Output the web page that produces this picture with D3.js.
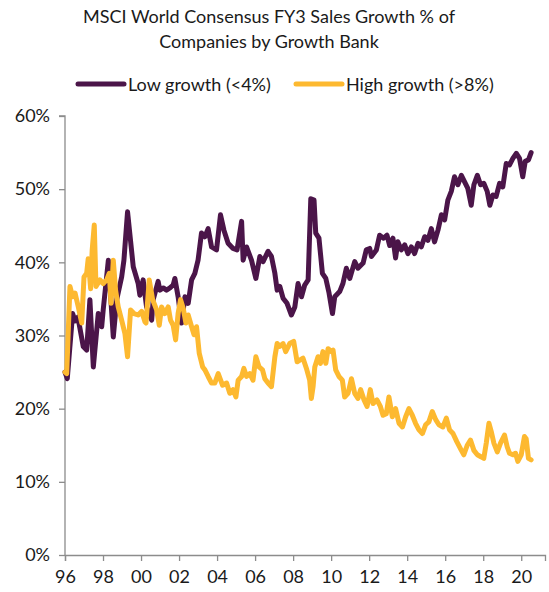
<!DOCTYPE html>
<html>
<head>
<meta charset="utf-8">
<script src="https://cdn.jsdelivr.net/npm/d3@7"></script>
<style>
  html, body { margin: 0; padding: 0; background: #fff; }
  svg { display: block; font-family: Lato, "Open Sans", sans-serif; }
</style>
</head>
<body>
<svg id="chart" width="549" height="592"></svg>
<script>
// Share of MSCI World companies by consensus FY3 sales growth band (%)
const lowDates = [
  1996.00, 1996.12, 1996.40, 1996.53, 1996.68, 1996.96, 1997.14, 1997.31, 1997.49, 1997.75,
  1997.93, 1998.01, 1998.28, 1998.54, 1998.72, 1998.98, 1999.10, 1999.29, 1999.59, 1999.85,
  1999.94, 2000.11, 2000.29, 2000.56, 2000.64, 2000.90, 2000.99, 2001.17, 2001.34, 2001.52,
  2001.69, 2001.78, 2001.95, 2002.13, 2002.31, 2002.48, 2002.66, 2002.83, 2003.00, 2003.18,
  2003.36, 2003.53, 2003.71, 2003.97, 2004.18, 2004.36, 2004.58, 2004.84, 2005.05, 2005.29,
  2005.37, 2005.55, 2005.81, 2006.04, 2006.25, 2006.42, 2006.68, 2006.86, 2007.04, 2007.16,
  2007.30, 2007.47, 2007.68, 2007.91, 2008.09, 2008.26, 2008.44, 2008.61, 2008.79, 2008.93,
  2009.10, 2009.19, 2009.36, 2009.54, 2009.72, 2009.89, 2010.07, 2010.19, 2010.45, 2010.62,
  2010.80, 2010.98, 2011.24, 2011.41, 2011.68, 2011.85, 2012.03, 2012.12, 2012.38, 2012.55,
  2012.76, 2012.94, 2013.08, 2013.25, 2013.39, 2013.51, 2013.69, 2013.87, 2014.04, 2014.22,
  2014.39, 2014.57, 2014.74, 2014.92, 2015.09, 2015.27, 2015.44, 2015.62, 2015.80, 2015.97,
  2016.14, 2016.32, 2016.49, 2016.67, 2016.85, 2017.02, 2017.19, 2017.37, 2017.51, 2017.69,
  2017.86, 2018.03, 2018.21, 2018.35, 2018.51, 2018.68, 2018.86, 2019.03, 2019.21, 2019.38,
  2019.56, 2019.74, 2019.91, 2020.08, 2020.21, 2020.38, 2020.52
];
const lowGrowth = [
  25.0, 24.1, 33.0, 32.0, 32.5, 28.5, 28.0, 34.9, 25.7, 33.0,
  31.2, 33.5, 40.3, 29.8, 34.9, 38.0, 40.3, 46.9, 39.4, 37.1,
  35.5, 37.6, 33.9, 32.1, 34.9, 37.4, 36.2, 36.5, 36.2, 36.5,
  36.9, 37.8, 35.3, 31.7, 35.3, 34.4, 37.6, 38.5, 40.3, 44.0,
  43.5, 44.6, 42.1, 41.7, 46.5, 44.4, 42.6, 41.9, 41.7, 45.6,
  40.3, 42.1, 40.3, 37.8, 40.8, 40.1, 41.5, 40.8, 38.5, 36.2,
  36.7, 35.1, 34.4, 32.8, 33.9, 37.1, 35.3, 36.9, 37.6, 48.7,
  48.5, 44.0, 43.3, 38.5, 37.8, 35.8, 33.0, 35.3, 36.0, 37.1,
  39.2, 37.8, 40.1, 39.2, 39.9, 41.7, 41.9, 40.8, 41.7, 43.7,
  43.3, 43.7, 42.3, 43.3, 40.6, 42.8, 41.7, 42.4, 41.2, 42.1,
  41.2, 42.6, 42.1, 43.5, 43.0, 44.6, 42.8, 44.4, 46.5, 45.8,
  48.5, 49.7, 51.7, 50.6, 51.9, 51.0, 50.1, 47.8, 50.6, 51.9,
  50.6, 50.8, 49.7, 47.8, 49.2, 49.0, 50.8, 50.3, 53.5, 53.3,
  54.2, 54.9, 54.2, 51.7, 53.8, 54.0, 55.0
];

const highDates = [
  1996.00, 1996.09, 1996.26, 1996.40, 1996.53, 1996.70, 1996.88, 1997.00, 1997.14, 1997.22,
  1997.35, 1997.43, 1997.54, 1997.63, 1997.84, 1998.01, 1998.19, 1998.33, 1998.42, 1998.54,
  1998.66, 1998.80, 1998.98, 1999.15, 1999.29, 1999.45, 1999.63, 1999.85, 2000.03, 2000.20,
  2000.26, 2000.43, 2000.61, 2000.82, 2000.96, 2001.08, 2001.25, 2001.43, 2001.55, 2001.69,
  2001.82, 2001.95, 2002.08, 2002.22, 2002.36, 2002.48, 2002.66, 2002.79, 2002.92, 2003.06,
  2003.24, 2003.36, 2003.53, 2003.71, 2003.88, 2004.06, 2004.29, 2004.50, 2004.67, 2004.84,
  2004.99, 2005.11, 2005.29, 2005.41, 2005.55, 2005.72, 2005.89, 2006.04, 2006.21, 2006.39,
  2006.51, 2006.68, 2006.86, 2007.04, 2007.16, 2007.30, 2007.47, 2007.61, 2007.82, 2008.03,
  2008.21, 2008.39, 2008.52, 2008.70, 2008.87, 2008.96, 2009.05, 2009.14, 2009.31, 2009.44,
  2009.57, 2009.72, 2009.84, 2010.01, 2010.10, 2010.24, 2010.41, 2010.59, 2010.71, 2010.89,
  2011.07, 2011.24, 2011.41, 2011.55, 2011.73, 2011.89, 2012.06, 2012.20, 2012.41, 2012.59,
  2012.73, 2012.90, 2013.04, 2013.22, 2013.39, 2013.57, 2013.75, 2013.92, 2014.09, 2014.27,
  2014.44, 2014.62, 2014.80, 2014.97, 2015.14, 2015.32, 2015.50, 2015.67, 2015.88, 2016.06,
  2016.23, 2016.41, 2016.61, 2016.85, 2016.98, 2017.16, 2017.33, 2017.51, 2017.69, 2017.90,
  2018.03, 2018.16, 2018.30, 2018.42, 2018.56, 2018.74, 2018.91, 2019.12, 2019.26, 2019.38,
  2019.56, 2019.70, 2019.82, 2020.00, 2020.17, 2020.26, 2020.38, 2020.52
];
const highGrowth = [
  25.0, 24.8, 36.7, 35.3, 35.8, 33.9, 31.7, 38.0, 38.5, 40.5,
  36.4, 41.7, 45.1, 36.7, 37.6, 37.1, 37.6, 38.5, 34.4, 40.3,
  36.2, 33.9, 32.1, 30.3, 27.1, 33.5, 33.0, 32.8, 33.3, 31.9,
  31.7, 37.6, 34.9, 33.5, 31.4, 33.9, 33.0, 33.9, 32.1, 31.4,
  29.4, 33.0, 34.9, 33.7, 31.7, 32.8, 31.2, 30.1, 31.2, 27.6,
  25.7, 25.3, 24.4, 23.5, 23.5, 24.8, 23.2, 23.5, 22.1, 22.6,
  21.6, 23.9, 24.4, 25.5, 24.4, 24.8, 23.9, 27.1, 25.7, 25.3,
  24.1, 23.5, 23.0, 27.1, 28.9, 28.5, 28.9, 27.8, 28.9, 29.2,
  26.4, 26.7, 26.9, 25.5, 23.9, 21.4, 23.0, 25.7, 27.1, 26.2,
  27.8, 26.2, 28.2, 27.8, 28.0, 25.3, 24.4, 23.9, 21.6, 22.1,
  24.1, 22.1, 21.4, 22.6, 21.2, 20.3, 22.6, 20.7, 21.2, 20.3,
  19.1, 19.3, 21.6, 18.9, 20.0, 18.0, 17.5, 18.9, 20.0, 19.1,
  18.0, 17.1, 16.6, 17.8, 18.2, 19.6, 18.5, 17.8, 17.5, 18.7,
  17.1, 16.6, 15.5, 14.3, 13.7, 15.0, 15.7, 14.3, 13.7, 13.4,
  13.2, 15.3, 18.0, 16.9, 15.3, 14.1, 15.3, 16.4, 14.8, 13.9,
  13.7, 13.9, 12.8, 13.7, 16.2, 15.9, 13.2, 13.0
];

const yearTicks = [1996, 1998, 2000, 2002, 2004, 2006, 2008, 2010, 2012, 2014, 2016, 2018, 2020];
const pctTicks = [0, 10, 20, 30, 40, 50, 60];
const titleLines = ["MSCI World Consensus FY3 Sales Growth % of", "Companies by Growth Bank"];
const seriesNames = ["Low growth (<4%)", "High growth (>8%)"];

const COLORS = ["#4b1549", "#fdb930"];
const svg = d3.select("#chart");

const x = d3.scaleLinear().domain([1996, 2021.25]).range([65, 545]);
const y = d3.scaleLinear().domain([0, 60]).range([555, 116]);

// title
svg.append("g").selectAll("text")
  .data(titleLines)
  .join("text")
  .attr("x", 269)
  .attr("y", (d, i) => 23 + i * 25)
  .attr("text-anchor", "middle")
  .attr("font-size", 18)
  .attr("fill", "#1a1a1a")
  .text(d => d);

// legend
const legendItems = [
  { name: seriesNames[0], color: COLORS[0], x0: 78 },
  { name: seriesNames[1], color: COLORS[1], x0: 296 }
];
const lg = svg.append("g").selectAll("g").data(legendItems).join("g")
  .attr("transform", d => `translate(${d.x0},0)`);
lg.append("line")
  .attr("x1", 0).attr("x2", 46).attr("y1", 84).attr("y2", 84)
  .attr("stroke", d => d.color).attr("stroke-width", 5).attr("stroke-linecap", "round");
lg.append("text")
  .attr("x", 50).attr("y", 91)
  .attr("font-size", 18).attr("fill", "#1a1a1a")
  .text(d => d.name);

// axes
const axisColor = "#8c8c8c";
const yAxis = svg.append("g")
  .attr("transform", "translate(65,0)")
  .call(d3.axisLeft(y).tickValues(pctTicks).tickFormat(d => d + "%").tickSize(6).tickPadding(9));
const xAxis = svg.append("g")
  .attr("transform", "translate(0,555)")
  .call(d3.axisBottom(x).tickValues(yearTicks).tickFormat(d => String(d).slice(2)).tickSize(6).tickPadding(9));
[xAxis, yAxis].forEach(g => {
  g.select(".domain").attr("stroke", axisColor).attr("stroke-width", 1.3);
  g.selectAll(".tick line").attr("stroke", axisColor).attr("stroke-width", 1.3);
  g.selectAll(".tick text").attr("font-family", "Lato, sans-serif").attr("font-size", 18).attr("fill", "#1a1a1a");
});
yAxis.select(".domain").attr("d", "M-6,116H0V555");

// series lines
const line = d3.line().x(d => x(d[0])).y(d => y(d[1]));
const series = [
  { pts: d3.zip(lowDates, lowGrowth), color: COLORS[0] },
  { pts: d3.zip(highDates, highGrowth), color: COLORS[1] }
];
svg.append("g").selectAll("path")
  .data(series)
  .join("path")
  .attr("d", d => line(d.pts))
  .attr("fill", "none")
  .attr("stroke", d => d.color)
  .attr("stroke-width", 5)
  .attr("stroke-linejoin", "round")
  .attr("stroke-linecap", "round");
</script>
</body>
</html>
